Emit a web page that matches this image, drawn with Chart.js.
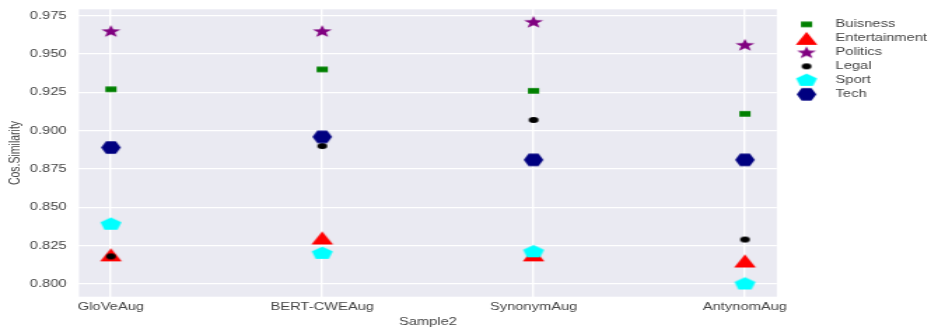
<!DOCTYPE html>
<html>
<head>
<meta charset="utf-8">
<script src="https://cdn.jsdelivr.net/npm/chart.js@4.4.0/dist/chart.umd.min.js"></script>
<style>
html, body { margin: 0; padding: 0; background: #fff; overflow: hidden; }
/* the reference picture is stretched sideways, so draw narrow and stretch */
#wrap { width: 670px; height: 327px; transform: scaleX(1.4); transform-origin: 0 0; }
</style>
</head>
<body>
<div id="wrap"><canvas id="chart" width="670" height="327"></canvas></div>
<script>
var categories = ["GloVeAug", "BERT-CWEAug", "SynonymAug", "AntynomAug"];
var seriesNames = ["Buisness", "Entertainment", "Politics", "Legal", "Sport", "Tech"];

var buisness      = [0.927, 0.940, 0.926, 0.911];
var entertainment = [0.819, 0.830, 0.819, 0.815];
var politics      = [0.965, 0.965, 0.971, 0.956];
var legal         = [0.818, 0.890, 0.907, 0.829];
var sport         = [0.839, 0.820, 0.821, 0.800];
var tech          = [0.889, 0.896, 0.881, 0.881];

var yMin = 0.7917, yMax = 0.9792, yStep = 0.025;

var textColor = "#444";
var fontFamily = "'Liberation Sans', Arial, sans-serif";

// marker images
function marker(w, h, color, draw) {
    var c = document.createElement("canvas");
    c.width = Math.ceil(w) + 2;
    c.height = Math.ceil(h) + 2;
    var ctx = c.getContext("2d");
    ctx.translate(c.width / 2, c.height / 2);
    ctx.fillStyle = color;
    ctx.beginPath();
    draw(ctx, w / 2, h / 2);
    ctx.fill();
    return c;
}

function polygon(ctx, n, rx, ry, start) {
    for (var i = 0; i < n; i++) {
        var a = start + i * 2 * Math.PI / n;
        var px = rx * Math.cos(a), py = ry * Math.sin(a);
        if (i === 0) ctx.moveTo(px, py); else ctx.lineTo(px, py);
    }
    ctx.closePath();
}

var squareImg = marker(8, 5.6, "#008000", function(ctx, rx, ry) {
    ctx.rect(-rx, -ry, rx * 2, ry * 2);
});
var triangleImg = marker(15.5, 13, "#ff0000", function(ctx, rx, ry) {
    ctx.moveTo(0, -ry); ctx.lineTo(rx, ry); ctx.lineTo(-rx, ry); ctx.closePath();
});
var starImg = marker(14, 12, "#800080", function(ctx, rx, ry) {
    var R = 6.6, r = R * 0.4;
    for (var i = 0; i < 10; i++) {
        var a = -Math.PI / 2 + i * Math.PI / 5;
        var rad = i % 2 === 0 ? R : r;
        var px = rad * Math.cos(a) * 1.1, py = rad * Math.sin(a) + 0.5;
        if (i === 0) ctx.moveTo(px, py); else ctx.lineTo(px, py);
    }
    ctx.closePath();
});
var dotImg = marker(7, 6, "#000000", function(ctx, rx, ry) {
    ctx.ellipse(0, 0, rx, ry, 0, 0, Math.PI * 2);
});
var pentagonImg = marker(15, 13, "#00ffff", function(ctx, rx, ry) {
    polygon(ctx, 5, 7.9, 6.8, -Math.PI / 2);
});
var hexagonImg = marker(14, 12.6, "#000080", function(ctx, rx, ry) {
    polygon(ctx, 6, 7, 7.2, 0);
});

var seriesValues = [buisness, entertainment, politics, legal, sport, tech];
var seriesMarkers = [squareImg, triangleImg, starImg, dotImg, pentagonImg, hexagonImg];
var seriesColors = ["#008000", "#ff0000", "#800080", "#000000", "#00ffff", "#000080"];

var datasets = seriesNames.map(function(name, i) {
    return {
        label: name,
        data: seriesValues[i].map(function(v, j) { return {x: j, y: v}; }),
        pointStyle: seriesMarkers[i],
        backgroundColor: seriesColors[i],
        borderColor: seriesColors[i],
        pointRadius: 6,
        pointHoverRadius: 6,
        showLine: false,
        clip: false,
        order: seriesNames.length - i
    };
});

var plotBackground = {
    id: "plotBackground",
    beforeDraw: function(chart) {
        var a = chart.chartArea;
        chart.ctx.save();
        chart.ctx.fillStyle = "#eaeaf2";
        chart.ctx.fillRect(a.left, a.top, a.right - a.left, a.bottom - a.top);
        chart.ctx.restore();
    }
};

var legendShift = {
    id: "legendShift",
    afterLayout: function(chart) {
        var lg = chart.legend;
        lg.left += 2.2; lg.right += 2.2;
        lg.top += 6.3; lg.bottom += 6.3;
    }
};

new Chart(document.getElementById("chart"), {
    type: "scatter",
    data: { datasets: datasets },
    options: {
        responsive: false,
        animation: false,
        devicePixelRatio: 1,
        layout: { padding: { top: 9.3, right: 0, bottom: 0, left: 0 } },
        plugins: {
            legend: {
                position: "right",
                align: "start",
                labels: {
                    usePointStyle: true,
                    pointStyleWidth: 31,
                    padding: 3.5,
                    color: textColor,
                    font: { family: fontFamily, size: 10.5 },
                    sort: function(a, b) { return a.datasetIndex - b.datasetIndex; }
                }
            },
            tooltip: { enabled: false }
        },
        scales: {
            x: {
                type: "linear",
                min: -0.151,
                max: 3.151,
                afterFit: function(s) {
                    s.height = 30.3;
                    s.paddingLeft = 0; s.paddingRight = 0;
                },
                border: { display: false },
                grid: { color: "#ffffff", lineWidth: 1.4, drawTicks: false },
                ticks: {
                    stepSize: 1,
                    includeBounds: false,
                    autoSkip: false,
                    maxRotation: 0,
                    padding: 4.5,
                    color: textColor,
                    font: { family: fontFamily, size: 10.5 },
                    callback: function(v) { return categories[v] !== undefined ? categories[v] : ""; }
                },
                title: {
                    display: true,
                    text: "Sample2",
                    color: textColor,
                    padding: 0,
                    font: { family: fontFamily, size: 10.5, lineHeight: 1 }
                }
            },
            y: {
                min: yMin,
                max: yMax,
                afterFit: function(s) {
                    s.width = 56.4;
                    s.paddingTop = 0; s.paddingBottom = 0;
                },
                border: { display: false },
                grid: { color: "#ffffff", lineWidth: 1.2, drawTicks: false },
                ticks: {
                    stepSize: yStep,
                    includeBounds: false,
                    padding: 8.8,
                    color: textColor,
                    font: { family: fontFamily, size: 10.5 },
                    callback: function(v) { return v.toFixed(3); }
                },
                title: {
                    display: true,
                    text: "Cos.Similarity",
                    color: textColor,
                    padding: { top: 5.4, bottom: 0 },
                    font: { family: fontFamily, size: 10.5, lineHeight: 1 }
                }
            }
        }
    },
    plugins: [plotBackground, legendShift]
});
</script>
</body>
</html>
